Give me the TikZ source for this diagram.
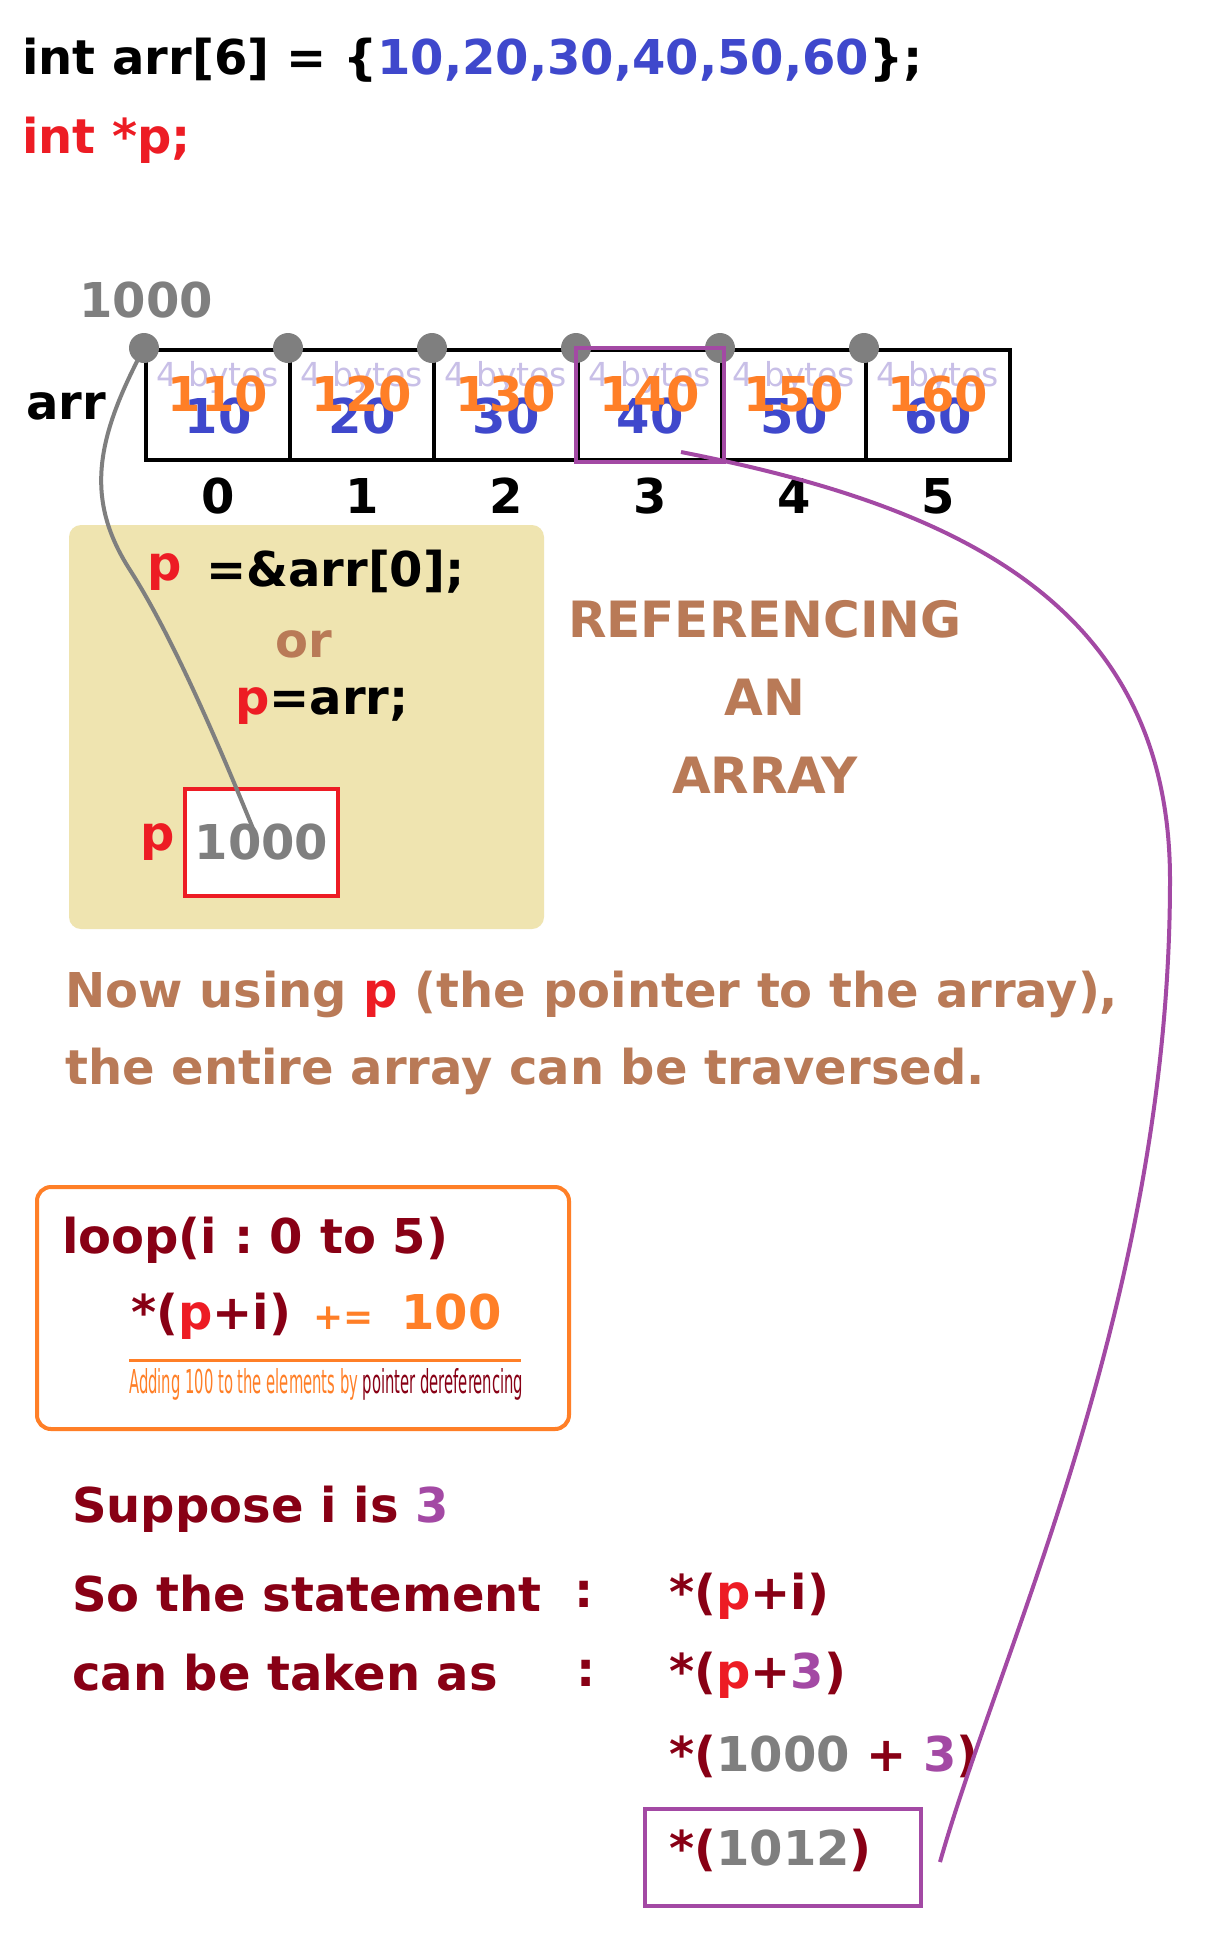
\documentclass[tikz,border=0pt]{standalone}
\usepackage{fontspec}
\setmainfont{DejaVu Sans}
\usepackage{tikz}
\usetikzlibrary{positioning,calc}
\usepackage{xcolor}
\usepackage{graphicx}
\definecolor{valueblue}{HTML}{3F48CC}
\definecolor{ptrred}{HTML}{ED1C24}
\definecolor{addrgray}{HTML}{7F7F7F}
\definecolor{addorange}{HTML}{FF7F27}
\definecolor{loopred}{HTML}{880015}
\definecolor{markpurple}{HTML}{A349A4}
\definecolor{notebrown}{HTML}{B97A57}
\definecolor{notefill}{HTML}{EFE4B0}
\definecolor{bytelilac}{HTML}{C8BFE7}
\newcommand{\bigtxt}{\fontsize{48}{56}\selectfont\bfseries}
\tikzset{
  txt/.style={inner sep=0pt,font=\bigtxt},
  codetxt/.style={txt,anchor=west},
  cellbox/.style={draw=black,line width=4pt,minimum width=144pt,minimum height=110pt,inner sep=0pt},
  bytetxt/.style={inner sep=0pt,font=\fontsize{33}{38}\selectfont,text=bytelilac},
  addrdot/.style={circle,fill=addrgray,minimum size=30pt,inner sep=0pt},
  pbox/.style={txt,draw=ptrred,line width=4pt,fill=white,minimum width=153pt,minimum height=107pt,text=addrgray},
  addrlink/.style={draw=addrgray,line width=4pt},
  tracelink/.style={draw=markpurple,line width=4pt}
}

\begin{document}
\begin{tikzpicture}[x=1pt,y=-1pt]
  \useasboundingbox (0,0) rectangle (1208,1960);
  \fill[white] (0,0) rectangle (1208,1960);

  \node[codetxt] (decl) at (22,60) {int arr[6] = \{\textcolor{valueblue}{10,20,30,40,50,60}\};};
  \node[codetxt,text=ptrred] (ptrdecl) at (22,140) {int *p;};

  % the array in memory
  \node[txt,text=addrgray] (base) at (146,300) {1000};
  \node[txt] (arrname) at (66,406) {arr};
  \foreach \v [count=\i from 0] in {10,20,30,40,50,60} {
    \node[cellbox] (c\i) at (218+144*\i,405) {};
    \node[bytetxt] at ($(c\i.center)+(0,-28)$) {4 bytes};
    \node[txt,text=valueblue] at ($(c\i.center)+(0,11)$) {\v};
    \node[txt,text=addorange] at ($(c\i.center)+(0,-11)$) {\the\numexpr\v+100\relax};
    \node[txt] (idx\i) at ($(c\i.center)+(0,91)$) {\i};
  }
  \foreach \i in {0,...,5}
    \node[addrdot] (d\i) at (c\i.north west) {};
  \draw[markpurple,line width=4pt] (c3.north west) rectangle (c3.south east);

  % pointer assignment
  \node[fill=notefill,rounded corners=12pt,minimum width=475pt,minimum height=404pt] (assign) at (306.5,727) {};
  \node[txt,text=ptrred] (p1) at (165,572) {p};
  \node[codetxt] (amp) at (206,572) {=\&arr[0];};
  \node[txt,text=notebrown] (orword) at (304,644) {or};
  \node[codetxt] (direct) at (235,706) {\textcolor{ptrred}{p}=arr;};
  \node[pbox] (pval) at (261.5,842.5) {1000};
  \node[txt,text=ptrred,left=8pt of pval] (pname) {p};
  \coordinate (pend) at (254,831);
  \draw[addrlink] (d0.center) .. controls (95,440) and (85,500) .. (130,570)
    .. controls (175,640) and (225,760) .. (pend);

  \node[txt,text=notebrown,align=center,font=\fontsize{50}{78}\selectfont\bfseries] (title) at (765,697) {REFERENCING\\AN\\ARRAY};

  \node[codetxt,text=notebrown] (now) at (65,994) {Now using \textcolor{ptrred}{p} (the pointer to the array),};
  \node[codetxt,text=notebrown] (entire) at (65,1071) {the entire array can be traversed.};

  % loop box
  \node[draw=addorange,line width=4pt,rounded corners=14pt,minimum width=532pt,minimum height=242pt] (loopbox) at (303,1308) {};
  \node[codetxt,text=loopred] (loophead) at (62,1240) {loop(i\ :\ 0\ to\ 5)};
  \node[codetxt,text=loopred] (loopbody) at (131,1316) {*(\textcolor{ptrred}{p}+i)\hspace{22pt}\textcolor{addorange}{{\fontsize{36}{40}\selectfont+=}\hspace{28pt}100}};
  \draw[addorange,line width=3pt] (129,1360) -- (521,1360);
  \node[anchor=west,inner sep=0pt] (loopnote) at (129,1384) {\resizebox{394pt}{25pt}{\color{addorange}Adding 100 to the elements by \color{loopred}pointer dereferencing}};

  % worked example
  \node[codetxt,text=loopred] (suppose) at (72,1509) {Suppose i is \textcolor{markpurple}{3}};
  \node[codetxt,text=loopred] (stmt) at (72,1594) {So the statement};
  \node[txt,text=loopred] (colon1) at (584,1594) {:};
  \node[codetxt,text=loopred] (taken) at (72,1673) {can be taken as};
  \node[txt,text=loopred] (colon2) at (586,1673) {:};
  \node[codetxt,text=loopred] (expr1) at (669,1596) {*(\textcolor{ptrred}{p}+i)};
  \node[codetxt,text=loopred] (expr2) at (669,1675) {*(\textcolor{ptrred}{p}+\textcolor{markpurple}{3})};
  \node[codetxt,text=loopred] (expr3) at (669,1756) {*(\textcolor{addrgray}{1000} + \textcolor{markpurple}{3})};
  \node[draw=markpurple,line width=4pt,minimum width=276pt,minimum height=97pt] (resultbox) at (783,1857.5) {};
  \node[codetxt,text=loopred] (expr4) at (669,1850) {*(\textcolor{addrgray}{1012})};

  \coordinate (elemtail) at ($(c3.center)+(31,47)$);
  \coordinate (traceend) at (940,1862);
  \draw[tracelink] (elemtail) .. controls (950,505) and (1170,600) .. (1170,880)
    .. controls (1170,1300) and (1000,1650) .. (traceend);
\end{tikzpicture}
\end{document}
